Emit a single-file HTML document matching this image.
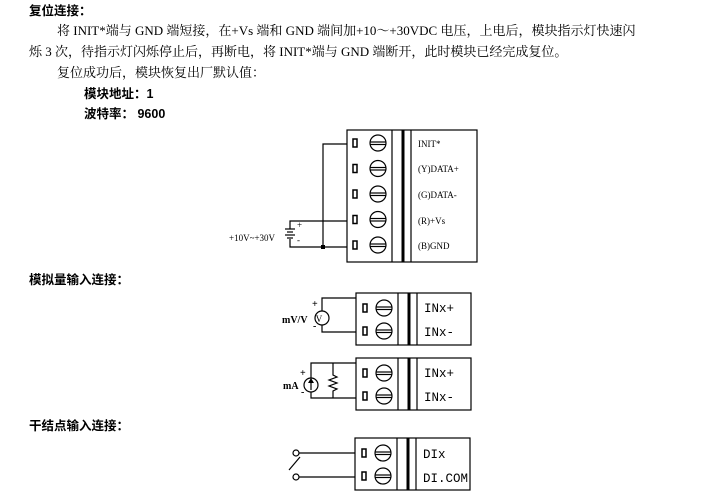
<!DOCTYPE html>
<html><head><meta charset="utf-8"><style>
body{margin:0;background:#fff;width:708px;height:499px;overflow:hidden}
svg{display:block}
.t{font-family:"Liberation Serif","Noto Serif CJK SC",serif;font-size:13px;fill:#000}
.b{font-weight:bold;font-family:"Liberation Sans","Noto Sans CJK SC",sans-serif;font-size:12.5px}
.s{font-family:"Liberation Serif",serif;font-size:9px}
.m{font-family:"Liberation Mono",monospace;font-size:12.5px}
</style></head><body>
<svg width="708" height="499" viewBox="0 0 708 499" xmlns="http://www.w3.org/2000/svg" stroke-linecap="butt">
<text class="t b" x="29" y="15">复位连接：</text>
<text class="t" x="57" y="35">将 INIT*端与 GND 端短接，在+Vs 端和 GND 端间加+10～+30VDC 电压，上电后，模块指示灯快速闪</text>
<text class="t" x="29" y="56">烁 3 次，待指示灯闪烁停止后，再断电，将 INIT*端与 GND 端断开，此时模块已经完成复位。</text>
<text class="t" x="57" y="77">复位成功后，模块恢复出厂默认值：</text>
<text class="t b" x="84" y="98">模块地址：1</text>
<text class="t b" x="84" y="118">波特率： 9600</text>
<text class="t b" x="29" y="284">模拟量输入连接：</text>
<text class="t b" x="29" y="430">干结点输入连接：</text>

<g fill="none" stroke="#000" stroke-width="1.2">
<!-- big block -->
<rect x="347" y="130" width="130" height="132"/>
<line x1="392" y1="130" x2="392" y2="262"/>
<line x1="403" y1="130" x2="403" y2="262" stroke-width="3"/>
<line x1="411" y1="130" x2="411" y2="262"/>
<g id="r1">
<rect x="353" y="139" width="4" height="8" stroke-width="1.5"/>
<circle cx="378" cy="143" r="8"/>
<line x1="370" y1="142" x2="386" y2="142"/><line x1="370" y1="144.5" x2="386" y2="144.5"/>
</g>
<use href="#r1" y="25.5"/><use href="#r1" y="51"/><use href="#r1" y="76.5"/><use href="#r1" y="102"/>
<polyline points="347,144 323,144 323,247 347,247"/>
<polyline points="347,221 290,221 290,229"/>
<polyline points="290,239 290,247 323,247"/>
<line x1="285" y1="229" x2="295" y2="229"/>
<line x1="287" y1="232" x2="293" y2="232"/>
<line x1="285" y1="235" x2="295" y2="235"/>
<line x1="287" y1="238" x2="293" y2="238"/>
</g>
<rect x="321" y="245" width="4" height="4" fill="#000"/>
<text class="s" x="297" y="228">+</text><text class="s" x="297" y="243">-</text>
<text class="s" x="229" y="241">+10V~+30V</text>
<g class="s" font-size="10">
<text x="418" y="147" font-size="9">INIT*</text>
<text x="418" y="172">(Y)DATA+</text>
<text x="418" y="198">(G)DATA-</text>
<text x="418" y="224">(R)+Vs</text>
<text x="418" y="249">(B)GND</text>
</g>

<!-- small blocks -->
<g fill="none" stroke="#000" stroke-width="1.2">
<g id="sb">
<rect x="356" y="293" width="115" height="52"/>
<line x1="398" y1="293" x2="398" y2="345"/>
<line x1="409" y1="293" x2="409" y2="345" stroke-width="3"/>
<line x1="417" y1="293" x2="417" y2="345"/>
<rect x="363" y="304" width="4" height="8" stroke-width="1.5"/>
<circle cx="384" cy="308" r="8"/>
<line x1="376" y1="307" x2="392" y2="307"/><line x1="376" y1="309.5" x2="392" y2="309.5"/>
<rect x="363" y="327" width="4" height="8" stroke-width="1.5"/>
<circle cx="384" cy="331" r="8"/>
<line x1="376" y1="330" x2="392" y2="330"/><line x1="376" y1="332.5" x2="392" y2="332.5"/>
</g>
<use href="#sb" y="65"/>
<use href="#sb" x="-1" y="145" />
<polyline points="356,298 322,298 322,311"/>
<circle cx="322" cy="318" r="7"/>
<polyline points="322,325 322,332 356,332"/>
<polyline points="356,363 311,363 311,378"/>
<circle cx="311" cy="385" r="7"/>
<polyline points="311,392 311,398 356,398"/>
<line x1="311" y1="390" x2="311" y2="380"/>
<polyline points="333,363 333,375 337,377 329,380 337,383 329,386 337,389 333,391 333,398"/>
<line x1="299" y1="453" x2="355" y2="453"/>
<line x1="299" y1="477" x2="355" y2="477"/>
<circle cx="296" cy="453" r="3"/><circle cx="296" cy="477" r="3"/>
<line x1="289" y1="470" x2="300" y2="457"/>
</g>
<polygon points="311,378 308,383 314,383" fill="#000"/>
<text x="319" y="322" font-family="Liberation Serif" font-size="9" text-anchor="middle">V</text>
<g font-family="Liberation Serif" font-weight="bold" font-size="10">
<text x="282" y="323">mV/V</text><text x="312" y="307">+</text><text x="313" y="329">-</text>
<text x="283" y="389">mA</text><text x="300" y="376">+</text><text x="301" y="395">-</text>
</g>
<g class="m">
<text x="424" y="312">INx+</text><text x="424" y="336">INx-</text>
<text x="424" y="377">INx+</text><text x="424" y="401">INx-</text>
<text x="423" y="458">DIx</text><text x="423" y="482">DI.COM</text>
</g>
</svg>
</body></html>
